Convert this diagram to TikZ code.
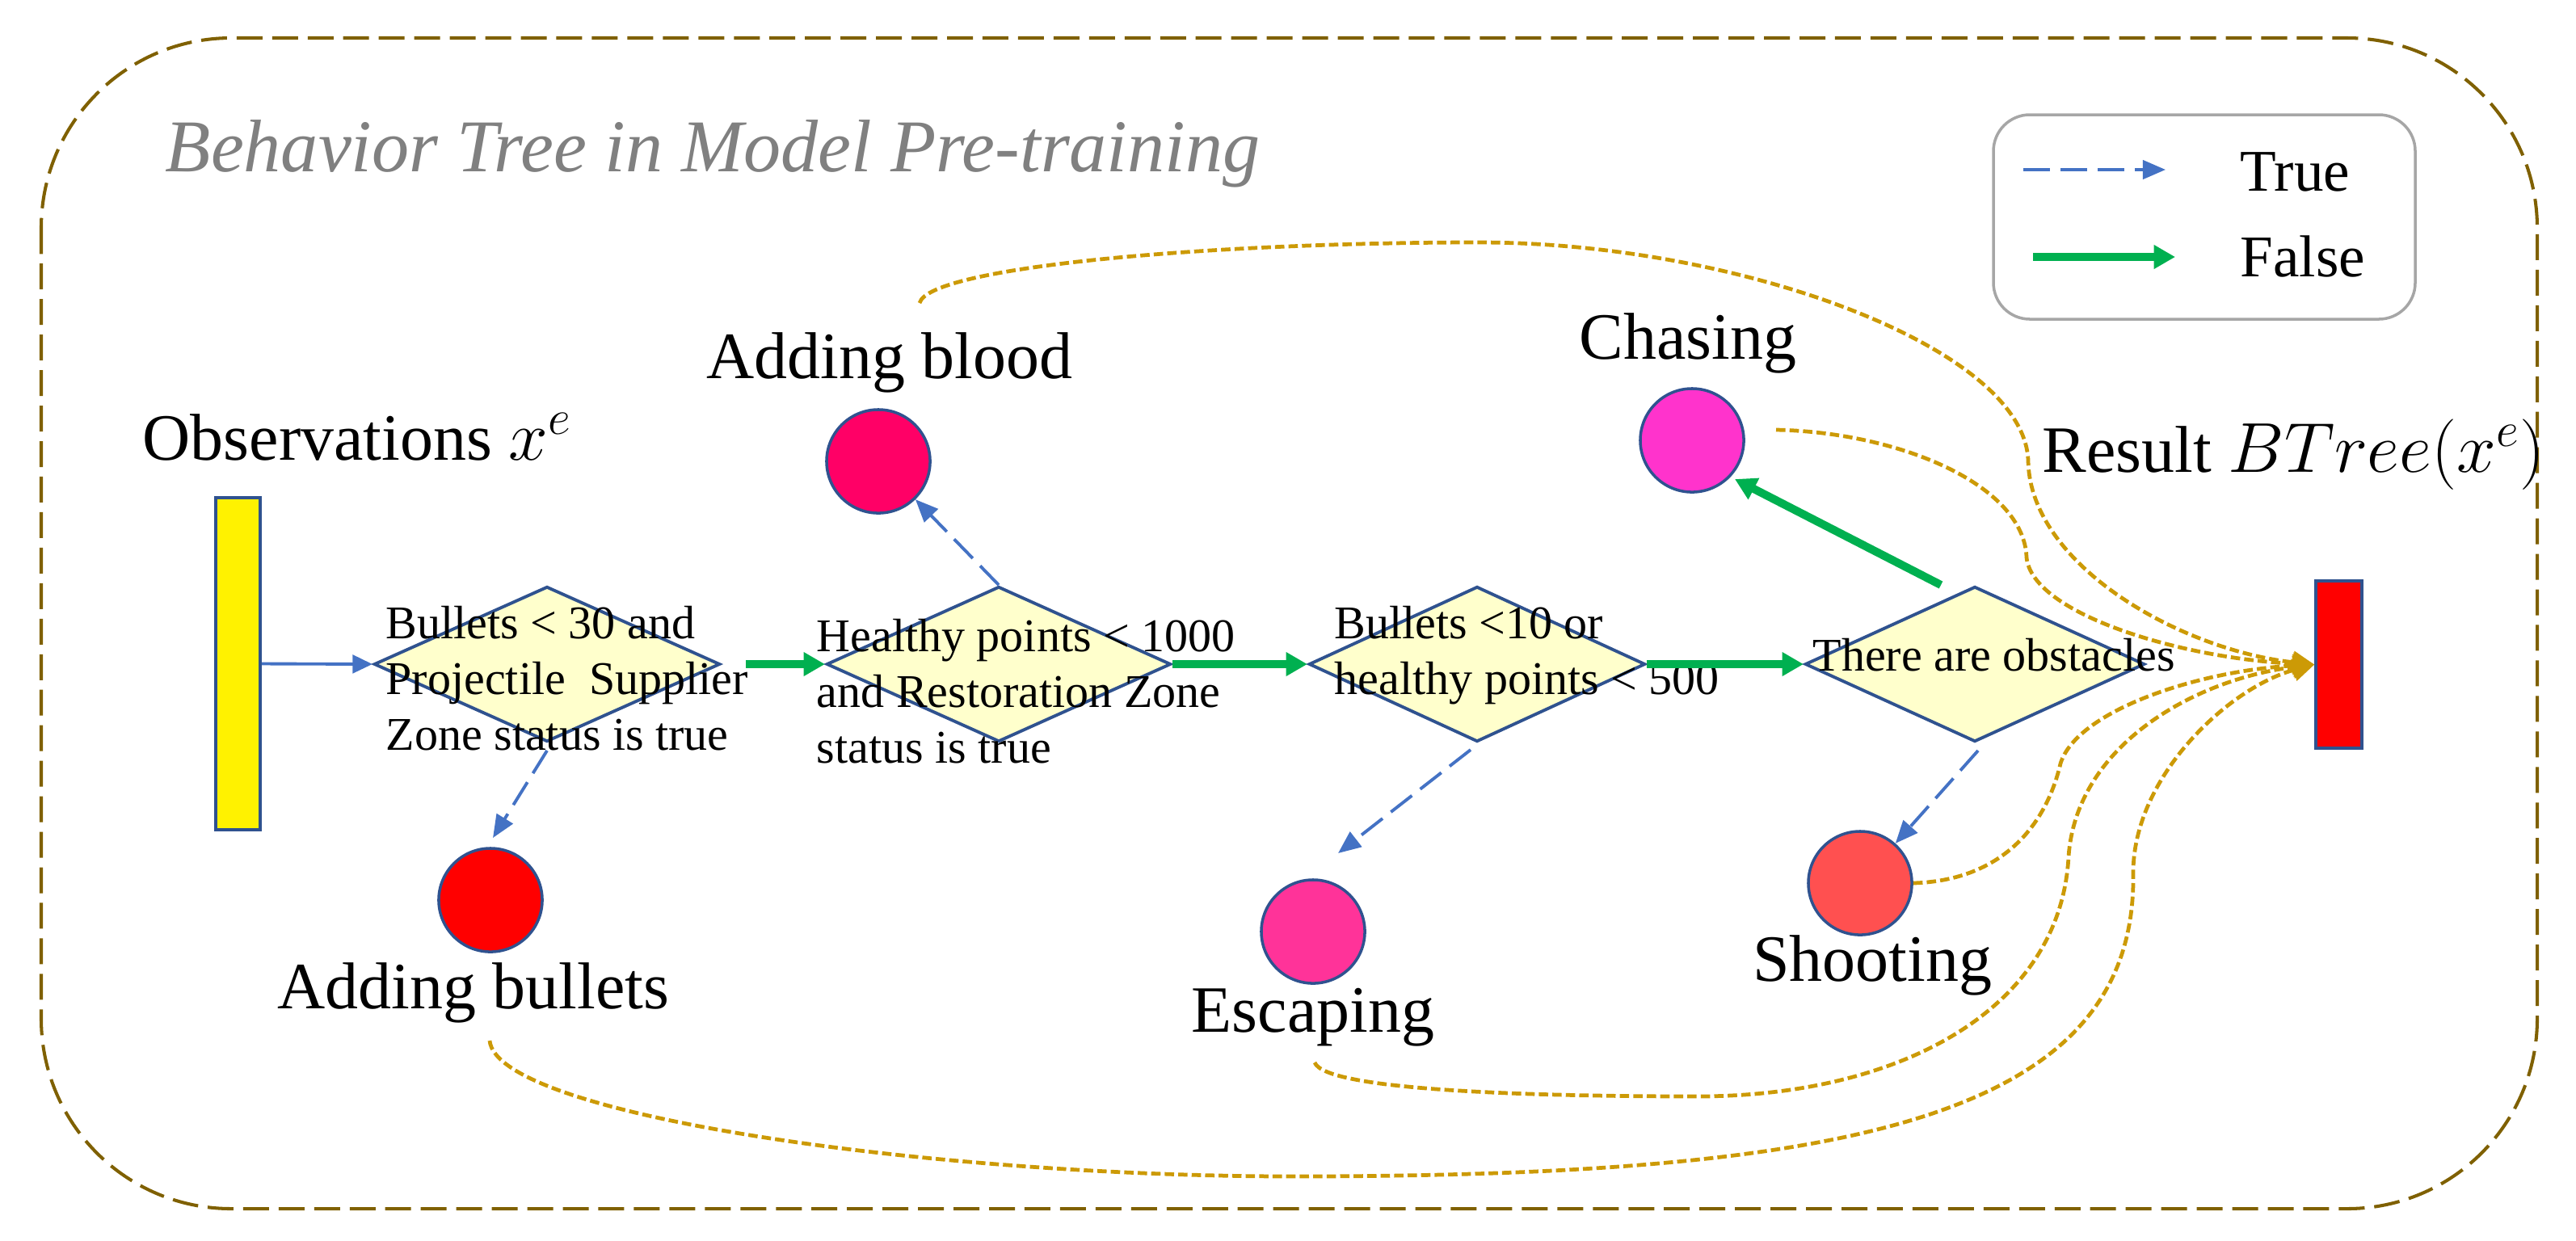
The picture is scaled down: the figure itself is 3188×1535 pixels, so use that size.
\documentclass[tikz,border=0pt]{standalone}
\usepackage{fontspec}
\setmainfont{Liberation Serif}
\usetikzlibrary{shapes.geometric,arrows.meta}
\definecolor{bluearr}{HTML}{4472C4}
\definecolor{greenarr}{HTML}{00B050}
\definecolor{goldarr}{HTML}{CC9A06}
\definecolor{framec}{HTML}{7F6000}
\definecolor{edgeblue}{HTML}{2F528F}
\definecolor{dfill}{HTML}{FFFFCC}
\definecolor{legendgray}{HTML}{A6A6A6}
\definecolor{titlegray}{HTML}{808080}
\definecolor{cblood}{HTML}{FF0066}
\definecolor{cbullet}{HTML}{FF0000}
\definecolor{cesc}{HTML}{FF3399}
\definecolor{cchase}{HTML}{FF33CC}
\definecolor{cshoot}{HTML}{FF5050}
\begin{document}
\begin{tikzpicture}[x=0.01cm,y=-0.01cm,
  dnode/.style={diamond, draw=edgeblue, fill=dfill, line width=1.1pt, inner sep=0pt, minimum height=1.92cm},
  cnode/.style={circle, draw=edgeblue, line width=1pt, minimum size=1.28cm, inner sep=0pt},
  barnode/.style={rectangle, draw=edgeblue, line width=1pt, inner sep=0pt, minimum width=0.55cm},
  lbl/.style={anchor=base, inner sep=0pt, font=\fontsize{23.3}{28}\selectfont},
  dtext/.style={anchor=base west, inner sep=0pt, font=\fontsize{16.5}{19.7}\selectfont},
  legtext/.style={anchor=base west, inner sep=0pt, font=\fontsize{20.8}{25}\selectfont},
  truearr/.style={draw=bluearr, line width=1.1pt, dash pattern=on 9.4pt off 3.7pt, -{Triangle[length=8pt,width=6.6pt]}},
  solidblue/.style={draw=bluearr, line width=1.1pt, -{Triangle[length=7pt,width=6.4pt]}},
  falsearr/.style={draw=greenarr, line width=2.85pt, -{Triangle[length=7.5pt,width=8pt]}},
  goldarrow/.style={draw=goldarr, line width=1.35pt, dash pattern=on 3.3pt off 1.45pt, -{Triangle[length=7.5pt,width=7.7pt]}},
  framebox/.style={draw=framec, line width=1.15pt, dash pattern=on 9.1pt off 3.4pt, rounded corners=66.9pt},
  legendbox/.style={draw=legendgray, line width=1pt, rounded corners=12.8pt}
]
\useasboundingbox (0,0) rectangle (3188,1535);

% outer frame and title
\draw[framebox] (51,47) rectangle (3140,1496);
\node[anchor=base west, inner sep=0pt, text=titlegray, font=\itshape\fontsize{26.2}{30}\selectfont] (title) at (204,212) {Behavior Tree in Model Pre-training};

% legend
\draw[legendbox] (2467,142) rectangle (2989,395);
\coordinate (lt1) at (2504,210);
\coordinate (lt2) at (2680,210);
\coordinate (lf1) at (2516,318);
\coordinate (lf2) at (2692,318);
\draw[truearr] (lt1) -- (lt2);
\draw[falsearr] (lf1) -- (lf2);
\node[legtext] (ltrue) at (2772,236) {True};
\node[legtext] (lfalse) at (2772,342) {False};

% input and output bars
\node[barnode, fill=yellow, minimum height=4.11cm] (obs) at (294.5,821.5) {};
\node[barnode, fill=red, minimum width=0.57cm, minimum height=2.07cm] (res) at (2894.5,822.5) {};
\node[anchor=base west, inner sep=0pt, font=\fontsize{23.3}{28}\selectfont] (tobs) at (176,569) {Observations $x^{e}$};
\node[anchor=base west, inner sep=0pt, font=\fontsize{23.3}{28}\selectfont] (tres) at (2527,584) {Result $BTree(x^{e})$};

% decision diamonds
\node[dnode, minimum width=4.28cm] (d1) at (677,822) {};
\node[dnode, minimum width=4.26cm] (d2) at (1236,822) {};
\node[dnode, minimum width=4.16cm] (d3) at (1828,822) {};
\node[dnode, minimum width=4.20cm] (d4) at (2444,822) {};
\node[dtext] (t1) at (477,790) {\vtop{\hbox{Bullets < 30 and}\hbox{Projectile\ \ Supplier}\hbox{Zone status is true}}};
\node[dtext] (t2) at (1010,806) {\vtop{\hbox{Healthy points < 1000}\hbox{and Restoration Zone}\hbox{status is true}}};
\node[dtext] (t3) at (1651,790) {\vtop{\hbox{Bullets <10 or}\hbox{healthy points < 500}}};
\node[dtext] (t4) at (2243,830) {There are obstacles};

% action circles
\node[cnode, fill=cblood] (ablood) at (1087,571) {};
\node[cnode, fill=cbullet] (abullet) at (607,1114) {};
\node[cnode, fill=cesc] (esc) at (1625,1153) {};
\node[cnode, fill=cchase] (chase) at (2094,545) {};
\node[cnode, fill=cshoot] (shoot) at (2302,1093) {};
\node[lbl] (tblood) at (1101,468) {Adding blood};
\node[lbl] (tbullet) at (586,1248) {Adding bullets};
\node[lbl] (tesc) at (1625,1277) {Escaping};
\node[lbl] (tshoot) at (2317,1214) {Shooting};
\node[lbl] (tchase) at (2089,444) {Chasing};

% main flow
\draw[solidblue] (obs.east) -- (d1.west);
\draw[falsearr] ([xshift=0.3cm]d1.east) -- (d2.west);
\draw[falsearr] (d2.east) -- (d3.west);
\draw[falsearr] (d3.east) -- (d4.west);
\coordinate (tipchase) at (2147,593);
\draw[falsearr] ([xshift=-0.42cm]d4.north) -- (tipchase);

% true branches
\coordinate (tipbul) at (610,1037);
\coordinate (tipesc) at (1656,1056);
\draw[truearr] ([yshift=-0.09cm]d1.south) -- (tipbul);
\draw[truearr] (d2.north) -- (ablood);
\draw[truearr] ([xshift=-0.08cm,yshift=-0.08cm]d3.south) -- (tipesc);
\draw[truearr] ([xshift=0.04cm,yshift=-0.09cm]d4.south) -- (shoot);

% results to output
\coordinate (g1s) at (1138,375);
\coordinate (g2s) at (2198,532);
\coordinate (g4s) at (1627,1315);
\coordinate (g5s) at (606,1288);
\draw[goldarrow] (g1s) .. controls (1150,330) and (1500,300) .. (1830,300)
   .. controls (2150,300) and (2505,430) .. (2510,570)
   .. controls (2512,700) and (2700,805) .. (res.west);
\draw[goldarrow] (g2s) .. controls (2350,535) and (2505,600) .. (2508,690)
   .. controls (2515,760) and (2700,815) .. (res.west);
\draw[goldarrow] (shoot.east) .. controls (2470,1090) and (2530,1030) .. (2550,945)
   .. controls (2570,880) and (2720,830) .. (res.west);
\draw[goldarrow] (g4s) .. controls (1640,1350) and (1900,1357) .. (2100,1357)
   .. controls (2350,1357) and (2550,1250) .. (2560,1060)
   .. controls (2570,920) and (2720,840) .. (res.west);
\draw[goldarrow] (g5s) .. controls (615,1380) and (1150,1456) .. (1600,1456)
   .. controls (2300,1456) and (2645,1380) .. (2640,1080)
   .. controls (2640,960) and (2760,850) .. (res.west);
\end{tikzpicture}
\end{document}
